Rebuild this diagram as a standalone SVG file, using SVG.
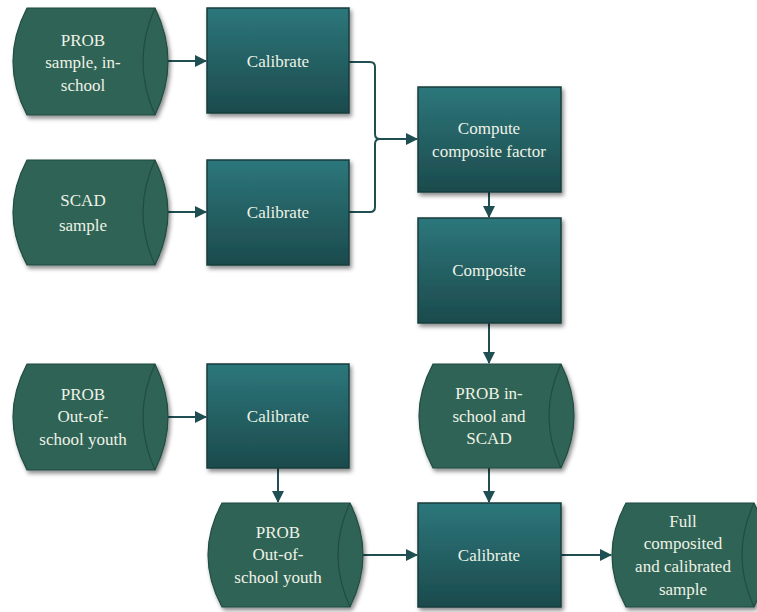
<svg xmlns="http://www.w3.org/2000/svg" width="757" height="612" viewBox="0 0 757 612">
<defs>
<linearGradient id="boxg" x1="0" y1="0" x2="0" y2="1">
<stop offset="0" stop-color="#2c777b"/>
<stop offset="1" stop-color="#1c4a4c"/>
</linearGradient>
<filter id="sh" x="-10%" y="-10%" width="130%" height="130%">
<feDropShadow dx="2" dy="3" stdDeviation="2" flood-color="#000" flood-opacity="0.45"/>
</filter>
<marker id="arr" markerUnits="userSpaceOnUse" markerWidth="12" markerHeight="12" viewBox="0 0 12 12" refX="11" refY="6" orient="auto">
<path d="M0,0 L12,6 L0,12 Z" fill="#1f4f52"/>
</marker>
</defs>
<style>
.box{fill:url(#boxg);stroke:#173c3e;stroke-width:1.5;filter:url(#sh)}
.ds{fill:#2e6355;stroke:#234c42;stroke-width:1.2;filter:url(#sh)}
.inner{fill:none;stroke:#234c42;stroke-width:1.2}
.t{font-family:"Liberation Serif","Times New Roman",serif;font-size:17px;fill:#eef2e6;text-anchor:middle}
.c{fill:none;stroke:#1f4f52;stroke-width:2;marker-end:url(#arr)}
.cn{fill:none;stroke:#1f4f52;stroke-width:2}
</style>
<rect width="757" height="612" fill="#ffffff"/>

<g id="connectors">
<path class="c" d="M168,61 H206"/>
<path class="c" d="M156,212 H206"/>
<path class="cn" d="M349,62 H370 Q375,62 375,67 V134 Q375,139 380,139"/>
<path class="cn" d="M349,212 H370 Q375,212 375,207 V144 Q375,139 380,139"/>
<path class="c" d="M378,139 H417"/>
<path class="c" d="M489,192 V217"/>
<path class="c" d="M489,323 V363"/>
<path class="c" d="M168,417 H206"/>
<path class="c" d="M278,468 V502"/>
<path class="c" d="M489,468 V502"/>
<path class="c" d="M360,555 H417"/>
<path class="c" d="M561,555 H611"/>
</g>

<g id="d1">
<path class="ds" d="M27,8 L155,8 Q181,61.5 155,115 L27,115 Q-1,61.5 27,8 Z"/>
<path class="inner" d="M155,8 Q131,61.5 155,115"/>
<text class="t" x="83" y="46">PROB</text>
<text class="t" x="83" y="68">sample, in-</text>
<text class="t" x="83" y="91">school</text>
</g>

<g id="cal1">
<rect class="box" x="207" y="8" width="142" height="105"/>
<text class="t" x="278" y="67">Calibrate</text>
</g>

<g id="d2">
<path class="ds" d="M27,160 L155,160 Q181,212.5 155,265 L27,265 Q-1,212.5 27,160 Z"/>
<path class="inner" d="M155,160 Q131,212.5 155,265"/>
<text class="t" x="83" y="206">SCAD</text>
<text class="t" x="83" y="231">sample</text>
</g>

<g id="cal2">
<rect class="box" x="207" y="160" width="142" height="105"/>
<text class="t" x="278" y="218">Calibrate</text>
</g>

<g id="compute">
<rect class="box" x="418" y="87" width="143" height="105"/>
<text class="t" x="489" y="134">Compute</text>
<text class="t" x="489" y="157">composite factor</text>
</g>

<g id="composite">
<rect class="box" x="418" y="218" width="143" height="105"/>
<text class="t" x="489" y="276">Composite</text>
</g>

<g id="d3">
<path class="ds" d="M27,364 L155,364 Q181,417 155,470 L27,470 Q-1,417 27,364 Z"/>
<path class="inner" d="M155,364 Q131,417 155,470"/>
<text class="t" x="83" y="400">PROB</text>
<text class="t" x="83" y="422">Out-of-</text>
<text class="t" x="83" y="445">school youth</text>
</g>

<g id="cal3">
<rect class="box" x="207" y="364" width="142" height="104"/>
<text class="t" x="278" y="422">Calibrate</text>
</g>

<g id="d5">
<path class="ds" d="M433,364 L561,364 Q587,416 561,468 L433,468 Q405,416 433,364 Z"/>
<path class="inner" d="M561,364 Q537,416 561,468"/>
<text class="t" x="489" y="399">PROB in-</text>
<text class="t" x="489" y="422">school and</text>
<text class="t" x="489" y="444">SCAD</text>
</g>

<g id="d4">
<path class="ds" d="M222,503 L350,503 Q376,555 350,607 L222,607 Q194,555 222,503 Z"/>
<path class="inner" d="M350,503 Q326,555 350,607"/>
<text class="t" x="278" y="538">PROB</text>
<text class="t" x="278" y="560">Out-of-</text>
<text class="t" x="278" y="583">school youth</text>
</g>

<g id="cal4">
<rect class="box" x="418" y="503" width="143" height="104"/>
<text class="t" x="489" y="561">Calibrate</text>
</g>

<g id="d6">
<path class="ds" d="M626,503 L754,503 Q780,555 754,607 L626,607 Q598,555 626,503 Z"/>
<path class="inner" d="M754,503 Q730,555 754,607"/>
<text class="t" x="683" y="527">Full</text>
<text class="t" x="683" y="549">composited</text>
<text class="t" x="683" y="572">and calibrated</text>
<text class="t" x="683" y="595">sample</text>
</g>
</svg>
